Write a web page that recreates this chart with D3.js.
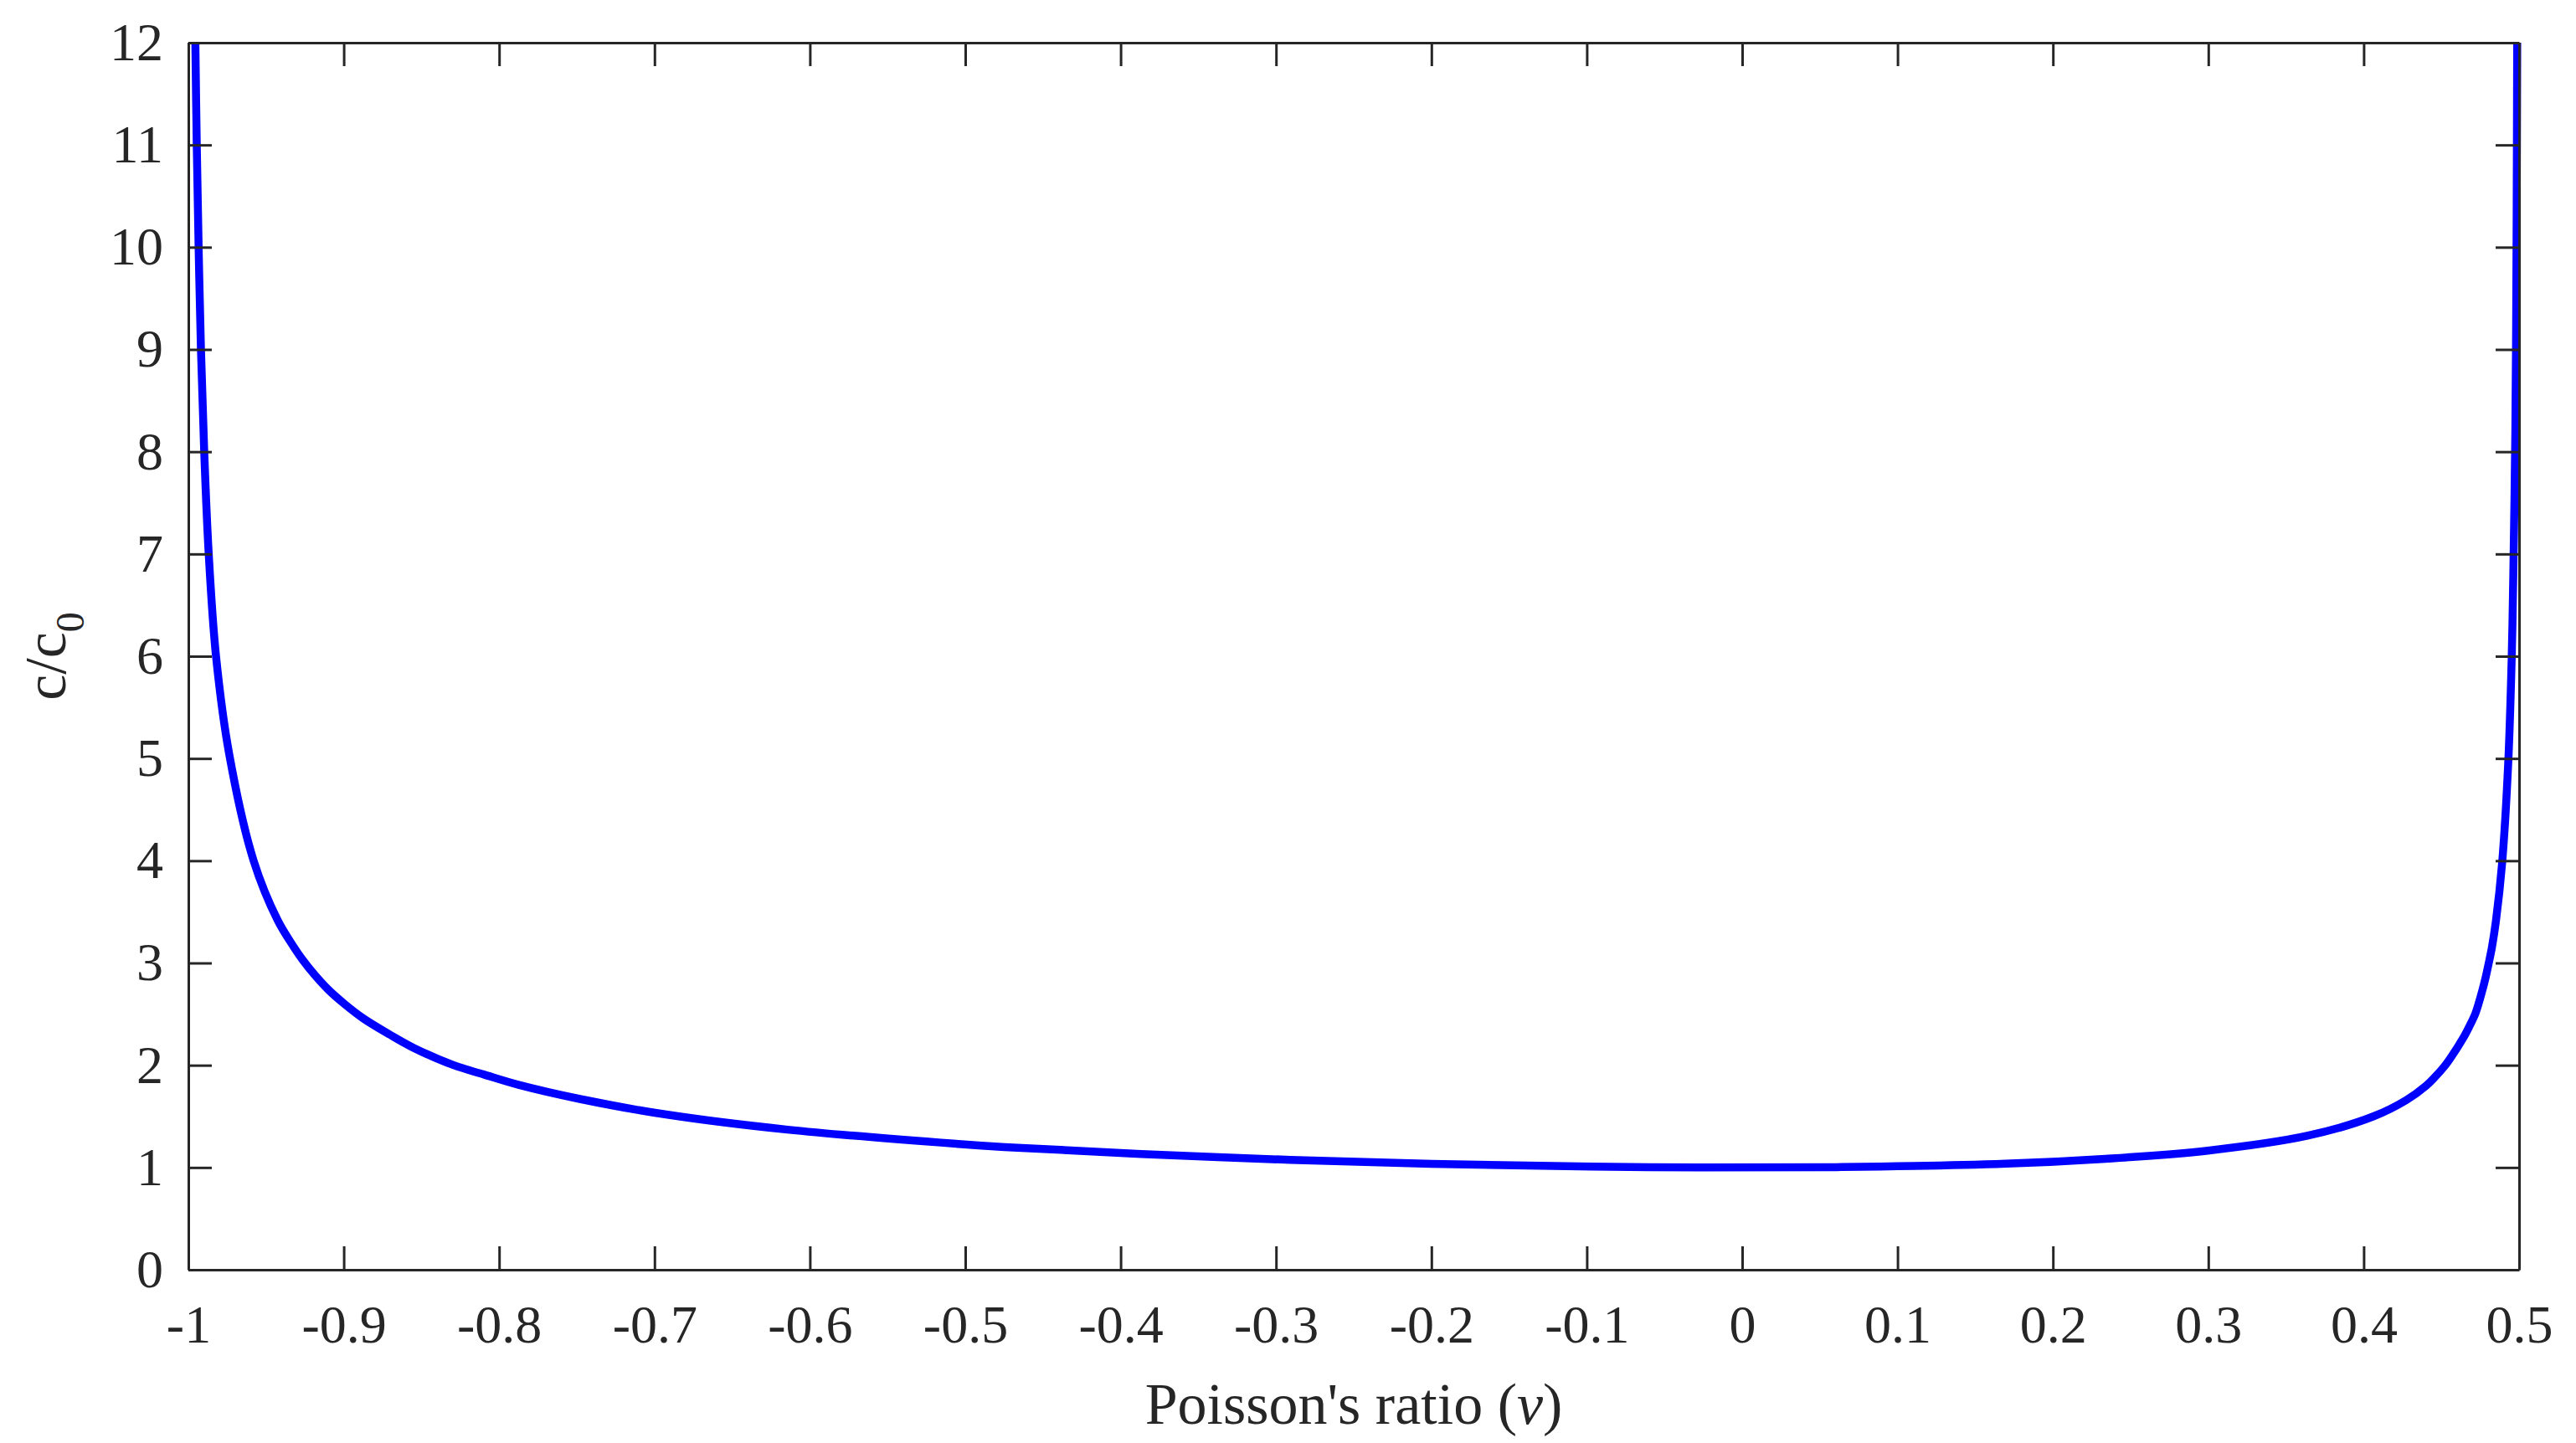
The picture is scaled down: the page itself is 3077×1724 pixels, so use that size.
<!DOCTYPE html>
<html>
<head>
<meta charset="utf-8">
<script src="https://cdn.jsdelivr.net/npm/d3@7"></script>
<style>
    body { margin: 0; background: #fff; }
    text { font-family: "Liberation Serif", "Times New Roman", serif; fill: #262626; }
</style>
</head>
<body>
<div id="vis"></div>
<script>
// values
var nu = [
    -0.9955, -0.9946, -0.9934, -0.9919, -0.9898, -0.9869, -0.9822, -0.9738,
    -0.958, -0.9426, -0.9323, -0.9264, -0.9185, -0.91, -0.8996, -0.8876,
    -0.8704, -0.855, -0.8292, -0.81, -0.7879, -0.748, -0.6934, -0.6144,
    -0.5045, -0.4747, -0.3373, -0.1999, -0.0967, -0.028, 0.0641, 0.1698,
    0.2337, 0.2997, 0.3637, 0.4063, 0.4275, 0.4402, 0.4456, 0.452,
    0.4563, 0.4642, 0.468, 0.472, 0.4765, 0.4785, 0.4805, 0.4825,
    0.4851, 0.4891, 0.493, 0.4952, 0.4963, 0.4976, 0.4981, 0.4984,
    0.4986, 0.4988
];
var ratio = [
    12, 11, 10, 9, 8, 7, 6, 5.05,
    4.0, 3.42, 3.16, 3.03, 2.88, 2.74, 2.6, 2.46,
    2.3, 2.17, 2.0, 1.91, 1.81, 1.67, 1.52, 1.37,
    1.23, 1.2, 1.1, 1.035, 1.008, 1.0, 1.004, 1.037,
    1.085, 1.165, 1.31, 1.5, 1.66, 1.8, 1.88, 1.99,
    2.08, 2.27, 2.38, 2.51, 2.74, 2.86, 3.0, 3.15,
    3.41, 3.98, 4.95, 5.95, 6.8, 8.2, 9.2, 10.1,
    10.95, 12
];
var xTicks = [-1, -0.9, -0.8, -0.7, -0.6, -0.5, -0.4, -0.3, -0.2, -0.1, 0, 0.1, 0.2, 0.3, 0.4, 0.5];
var yTicks = [0, 1, 2, 3, 4, 5, 6, 7, 8, 9, 10, 11, 12];
var xTitle = "Poisson's ratio (";
var xSymbol = "\u03bd";
var yTitle = "c/c";
var ySub = "0";

var margin = { top: 51, right: 68, bottom: 207, left: 225 },
    width = 3077,
    height = 1724,
    drawWidth = width - margin.left - margin.right,
    drawHeight = height - margin.top - margin.bottom;

var data = nu.map(function(d, i) {
    return { q: d, p: ratio[i] };
});

var x = d3.scaleLinear()
    .domain([-1, 0.5])
    .range([0, drawWidth]);

var y = d3.scaleLinear()
    .domain([0, 12])
    .range([drawHeight, 0]);

var fmt = function(d) { return String(+d.toFixed(1)); };

var svg = d3.select("#vis").append("svg")
    .attr("width", width)
    .attr("height", height);

svg.append("rect")
    .attr("width", width)
    .attr("height", height)
    .attr("fill", "#fff");

var g = svg.append("g")
    .attr("transform", "translate(" + margin.left + "," + margin.top + ")");

// curve first, axes drawn on top like matlab
var line = d3.line()
    .curve(d3.curveCatmullRom.alpha(0.5))
    .x(function(d) { return x(d.q); })
    .y(function(d) { return y(d.p); });

g.append("path")
    .datum(data)
    .attr("fill", "none")
    .attr("stroke", "#0000ff")
    .attr("stroke-width", 9.5)
    .attr("stroke-linejoin", "round")
    .attr("d", line);

var tickLen = 28;

// bottom + left with labels, top + right mirror ticks only
g.append("g")
    .attr("class", "x axis")
    .attr("transform", "translate(0," + drawHeight + ")")
    .call(d3.axisBottom(x).tickValues(xTicks).tickFormat(fmt)
        .tickSizeInner(-tickLen).tickSizeOuter(0).tickPadding(42));

g.append("g")
    .attr("class", "x axis top")
    .call(d3.axisTop(x).tickValues(xTicks).tickFormat("")
        .tickSizeInner(-tickLen).tickSizeOuter(0));

g.append("g")
    .attr("class", "y axis")
    .call(d3.axisLeft(y).tickValues(yTicks).tickFormat(fmt)
        .tickSizeInner(-tickLen).tickSizeOuter(0).tickPadding(30));

g.append("g")
    .attr("class", "y axis right")
    .attr("transform", "translate(" + drawWidth + ",0)")
    .call(d3.axisRight(y).tickValues(yTicks).tickFormat("")
        .tickSizeInner(-tickLen).tickSizeOuter(0));

g.selectAll(".axis path")
    .attr("stroke", "#262626")
    .attr("stroke-width", 3);
g.selectAll(".axis line")
    .attr("stroke", "#262626")
    .attr("stroke-width", 3);
g.selectAll(".axis text")
    .attr("fill", "#262626")
    .style("font-family", "'Liberation Serif', serif")
    .style("font-size", "64px");

// x title
var xt = g.append("text")
    .attr("x", drawWidth / 2)
    .attr("y", drawHeight + 184)
    .attr("text-anchor", "middle")
    .style("font-size", "70px");
xt.append("tspan").text(xTitle);
xt.append("tspan").style("font-style", "italic").text(xSymbol);
xt.append("tspan").text(")");

// y title
var yt = svg.append("text")
    .attr("transform", "translate(78," + (margin.top + drawHeight / 2) + ") rotate(-90)")
    .attr("text-anchor", "middle")
    .style("font-size", "70px");
yt.append("tspan").text(yTitle);
yt.append("tspan")
    .attr("dy", 22)
    .style("font-size", "48px")
    .text(ySub);
</script>
</body>
</html>
